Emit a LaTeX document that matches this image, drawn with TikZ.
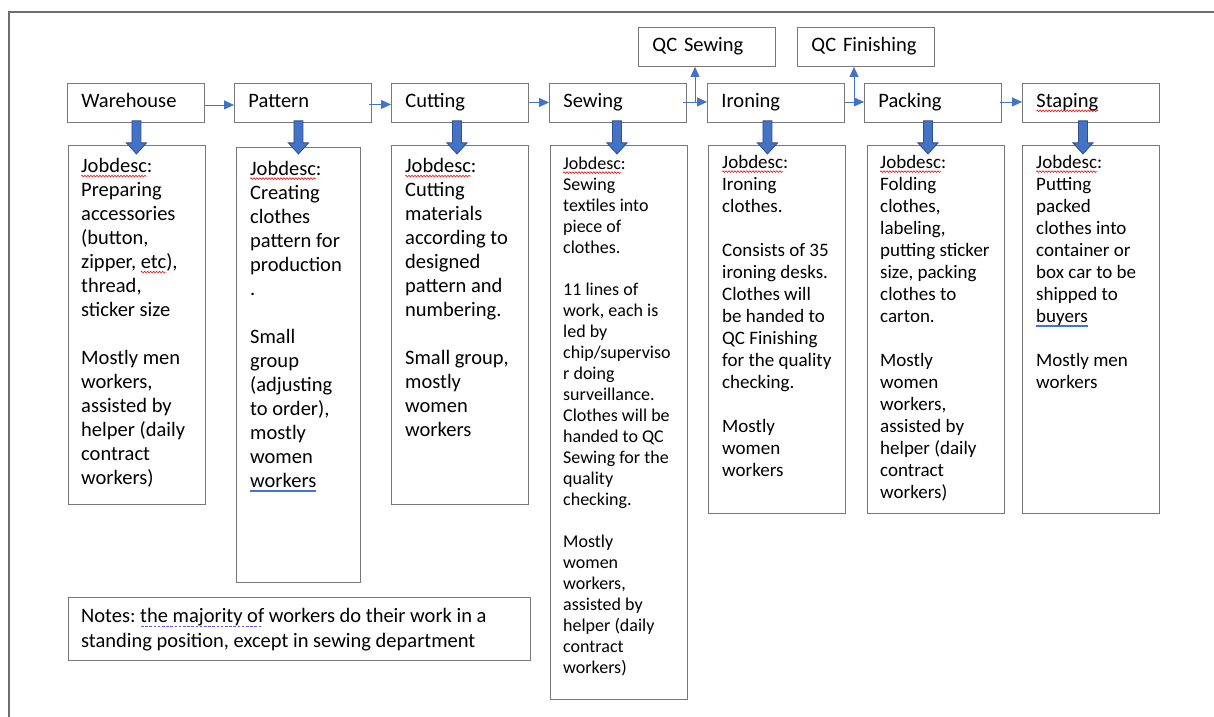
\documentclass[tikz,border=0pt]{standalone}
\usepackage{fontspec}
\setmainfont{Carlito}
\usetikzlibrary{arrows.meta,calc,decorations.pathmorphing}
\frenchspacing
\definecolor{boxgray}{RGB}{120,120,120}
\definecolor{framegray}{RGB}{110,110,110}
\definecolor{arrblue}{RGB}{68,114,196}
\definecolor{arrdark}{RGB}{47,82,143}
\definecolor{squigred}{RGB}{235,20,20}
\definecolor{ulblue}{RGB}{68,114,220}
\definecolor{dotblue}{RGB}{100,90,235}
\newsavebox\ulbox
\newlength\ulwd
\newcommand\redsquig[1]{\sbox\ulbox{#1}\setlength\ulwd{\wd\ulbox}%
  \rlap{\tikz[baseline=0pt,x=1pt,y=1pt]{\useasboundingbox (0pt,0pt);
    \draw[draw=squigred,line width=0.6pt,decorate,decoration={zigzag,segment length=3pt,amplitude=0.9pt}] (0pt,-3.4pt) -- (\ulwd,-3.4pt);}}%
  \usebox\ulbox}
\newcommand\blueuu[1]{\sbox\ulbox{#1}%
  \rlap{\textcolor{ulblue}{\rule[-3.2pt]{\wd\ulbox}{0.7pt}}}%
  \rlap{\textcolor{ulblue}{\rule[-4.9pt]{\wd\ulbox}{0.7pt}}}\usebox\ulbox}
\newcommand\bluedash[1]{\sbox\ulbox{#1}%
  \rlap{\textcolor{dotblue}{\hbox to\wd\ulbox{\leaders\hbox{\kern0.8pt\vrule width 2.6pt height -3.4pt depth 4.4pt\kern0.8pt}\hfill}}}%
  \usebox\ulbox}
\newcommand\fs{\rule{0pt}{16pt}}
\tikzset{
  titlebox/.style={draw=boxgray, line width=0.9pt, anchor=north west, minimum width=137pt, minimum height=39pt,
    text width=109pt, align=left, inner xsep=14pt, inner ysep=0pt, text height=13pt, text depth=4pt,
    font=\fontsize{20.5}{24}\selectfont},
  descbox/.style={draw=boxgray, line width=0.9pt, anchor=north west, inner sep=0pt},
  desctext/.style={anchor=north west, inner sep=0pt, align=left},
  big/.style={font=\fontsize{20.5}{24}\selectfont},
  mid/.style={font=\fontsize{19}{22}\selectfont},
  small/.style={font=\fontsize{18}{21}\selectfont},
  flow/.style={draw=arrblue, line width=0.8pt, -{Triangle[length=10pt,width=9pt]}},
  blk/.style={fill=arrblue, draw=arrdark, line width=0.9pt, line join=miter},
  frame/.style={draw=framegray, line width=1.1pt},
}
\newcommand\blockarrow[2]{%
  \draw[blk] ($(#1.south)+(#2-4.5,-2)$) -- ++(0,22) -- ++(-5.5,0) -- ($(#1.south)+(#2,31)$)
    -- ($(#1.south)+(#2+10,20)$) -- ++(-5.5,0) -- ++(0,-22) -- cycle;}
\begin{document}
\begin{tikzpicture}[x=1pt,y=-1pt]
\useasboundingbox (0,0) rectangle (1214,716);
\fill[white] (0,0) rectangle (1214,716);
\draw[frame] (9,740) -- (9,12) -- (1240,12);

% title boxes
\node[titlebox] (w) at (67,83) {Warehouse};
\node[titlebox] (p) at (234,83) {Pattern};
\node[titlebox] (c) at (391,83) {Cutting};
\node[titlebox] (s) at (549,83) {Sewing};
\node[titlebox] (i) at (707,83) {Ironing};
\node[titlebox] (k) at (864,83) {Packing};
\node[titlebox] (t) at (1022,83) {\redsquig{Staping}};
\node[titlebox] (qs) at (638,27) {QC Sewing};
\node[titlebox] (qf) at (797,27) {QC Finishing};

% description boxes
\node[descbox, minimum width=137pt, minimum height=359pt] (wd) at (68,145) {};
\node[descbox, minimum width=124pt, minimum height=435pt] (pd) at (236,147) {};
\node[descbox, minimum width=137pt, minimum height=359pt] (cd) at (391,145) {};
\node[descbox, minimum width=137pt, minimum height=554pt] (sd) at (550,145) {};
\node[descbox, minimum width=137pt, minimum height=368pt] (id) at (708,145) {};
\node[descbox, minimum width=137pt, minimum height=368pt] (kd) at (867,145) {};
\node[descbox, minimum width=137pt, minimum height=368pt] (td) at (1022,145) {};
\node[descbox, minimum width=462pt, minimum height=63pt] (nb) at (68,597) {};

\node[desctext, big] (wdt) at ($(wd.north west)+(13,11.5)$) {\fs\redsquig{Jobdesc}:\\
Preparing\\ accessories\\ (button,\\ zipper, \redsquig{etc}),\\ thread,\\ sticker size\\[24pt]
Mostly men\\ workers,\\ assisted by\\ helper (daily\\ contract\\ workers)};

\node[desctext, big] (pdt) at ($(pd.north west)+(14,12)$) {\fs\redsquig{Jobdesc}:\\
Creating\\ clothes\\ pattern for\\ production\\ .\\[24pt]
Small\\ group\\ (adjusting\\ to order),\\ mostly\\ women\\ \blueuu{workers}};

\node[desctext, big] (cdt) at ($(cd.north west)+(14,11.5)$) {\fs\redsquig{Jobdesc}:\\
Cutting\\ materials\\ according to\\ designed\\ pattern and\\ numbering.\\[24pt]
Small group,\\ mostly\\ women\\ workers};

\node[desctext, small] (sdt) at ($(sd.north west)+(13,8)$) {\fs\redsquig{Jobdesc}:\\
Sewing\\ textiles into\\ piece of\\ clothes.\\[21pt]
11 lines of\\ work, each is\\ led by\\ chip/superviso\\ r doing\\ surveillance.\\
Clothes will be\\ handed to QC\\ Sewing for the\\ quality\\ checking.\\[21pt]
Mostly\\ women\\ workers,\\ assisted by\\ helper (daily\\ contract\\ workers)};

\node[desctext, mid] (idt) at ($(id.north west)+(14,7)$) {\fs\redsquig{Jobdesc}:\\
Ironing\\ clothes.\\[22pt]
Consists of 35\\ ironing desks.\\ Clothes will\\ be handed to\\ QC Finishing\\ for the quality\\ checking.\\[22pt]
Mostly\\ women\\ workers};

\node[desctext, mid] (kdt) at ($(kd.north west)+(13,7)$) {\fs\redsquig{Jobdesc}:\\
Folding\\ clothes,\\ labeling,\\ putting sticker\\ size, packing\\ clothes to\\ carton.\\[22pt]
Mostly\\ women\\ workers,\\ assisted by\\ helper (daily\\ contract\\ workers)};

\node[desctext, mid] (tdt) at ($(td.north west)+(14,7)$) {\fs\redsquig{Jobdesc}:\\
Putting\\ packed\\ clothes into\\ container or\\ box car to be\\ shipped to\\ \blueuu{buyers}\\[22pt]
Mostly men\\ workers};

\node[desctext, font=\fontsize{20.5}{25}\selectfont] (nt) at ($(nb.north west)+(13,9)$) {\fs Notes: \bluedash{the majority of} workers do their work in a\\ standing position, except in sewing department};

% flow arrows
\draw[flow] ($(w.east)+(0,2)$) -- ($(p.west)+(0,2)$);
\draw[flow] ($(p.east)+(-3,1.5)$) -- ($(c.west)+(0,1.5)$);
\draw[flow] ($(c.east)+(0,-0.5)$) -- ($(s.west)+(0,-0.5)$);
\draw[flow] ($(s.east)+(-4,-1)$) -- ($(i.west)+(0,-1)$);
\draw[flow] ($(i.east)+(0,-1)$) -- ($(k.west)+(0,-1)$);
\draw[flow] ($(k.east)+(-2,-1)$) -- ($(t.west)+(0,-1)$);
\coordinate (b1) at (695,101.5);
\coordinate (b2) at (854,101.5);
\draw[flow] (b1) -- (b1 |- qs.south);
\draw[flow] (b2) -- (b2 |- qf.south);

% block arrows
\blockarrow{w}{0.5}
\blockarrow{p}{-4.5}
\blockarrow{c}{-3}
\blockarrow{s}{-1}
\blockarrow{i}{-8.5}
\blockarrow{k}{-5}
\blockarrow{t}{-8}
\end{tikzpicture}
\end{document}
